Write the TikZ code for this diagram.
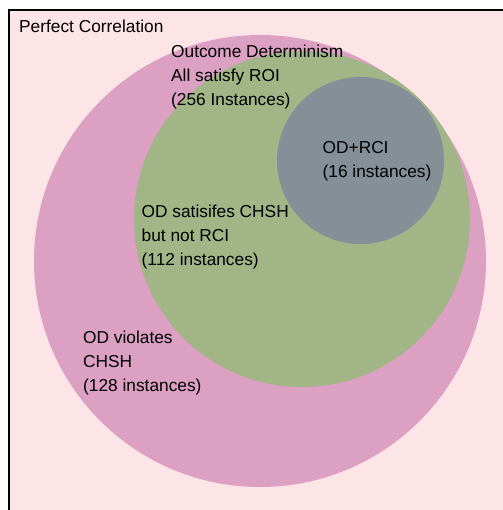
\documentclass[tikz,border=0pt]{standalone}
\usepackage{fontspec}
\setmainfont{Liberation Sans}
\usepackage{xcolor}
\usepackage{tikz}
\usetikzlibrary{positioning}

\definecolor{corrbg}{RGB}{253,228,230}
\definecolor{odviol}{RGB}{220,160,195}
\definecolor{odsat}{RGB}{161,181,135}
\definecolor{odrci}{RGB}{132,143,152}

\begin{document}
\begin{tikzpicture}[x=1bp,y=-1bp,
  every node/.style={font=\fontsize{17.3bp}{24bp}\selectfont},
  set/.style={circle,draw=none,inner sep=0pt},
  lbl/.style={anchor=base west,align=left,inner sep=0pt}]
  \useasboundingbox (0,0) rectangle (503,510);
  \clip (0,0) rectangle (503,510);
  \draw[fill=corrbg,line width=2bp] (9,10) rectangle (530,540);
  \node[set,fill=odviol,minimum size=452bp] (viol) at (260,261) {};
  \node[set,fill=odsat,minimum size=336bp] (sat) at (302,219) {};
  \node[set,fill=odrci,minimum size=167bp] (rci) at (360.5,160.5) {};
  % multi-line labels: base is the last line
  \node[lbl] (corr) at (19,33) {Perfect Correlation};
  \node[lbl] (od) at (171,106) {Outcome Determinism\\All satisfy ROI\\(256 Instances)};
  \node[lbl] (rcitxt) at (322.5,177.5) {OD+RCI\\(16 instances)};
  \node[lbl] (sattxt) at (141.5,265) {OD satisifes CHSH\\but not RCI\\(112 instances)};
  \node[lbl] (violtxt) at (83,391) {OD violates\\CHSH\\(128 instances)};
\end{tikzpicture}
\end{document}
